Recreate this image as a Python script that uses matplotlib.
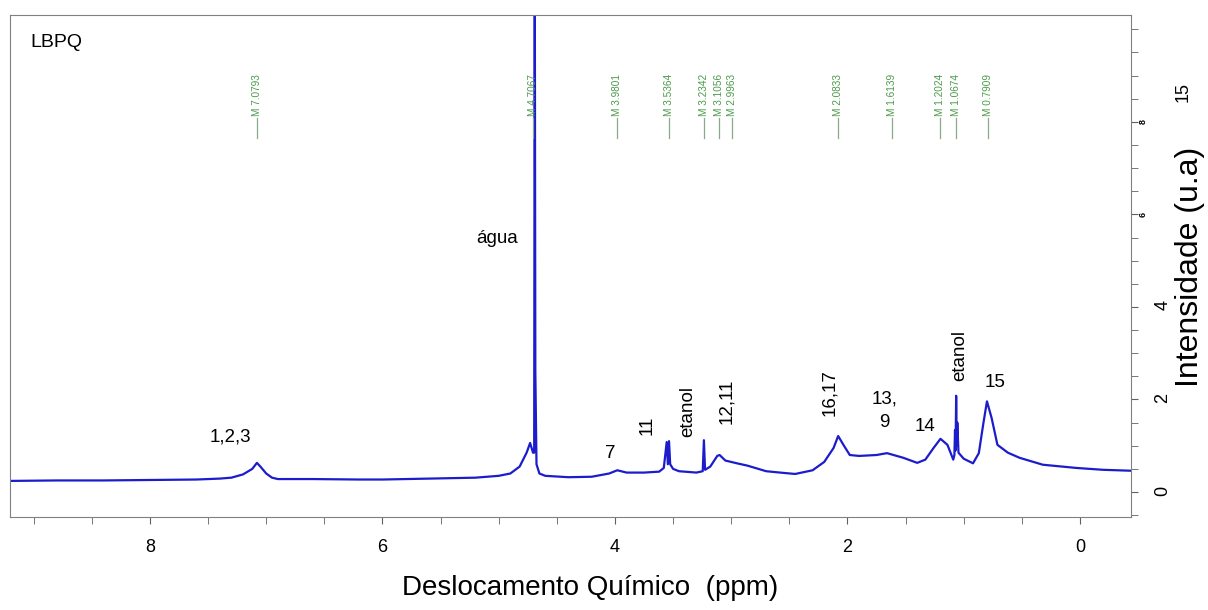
import matplotlib
matplotlib.use('Agg')
import matplotlib.pyplot as plt
from matplotlib.ticker import MultipleLocator

plt.rcParams['font.family'] = ['Liberation Sans', 'DejaVu Sans']

# spectrum: chemical shift (ppm) and intensity (u.a)
ppm = [9.20, 8.80, 8.40, 8.00, 7.60, 7.40, 7.30, 7.20, 7.12, 7.08, 7.05, 7.00, 6.95, 6.90,
       6.60, 6.20, 6.00, 5.60, 5.20, 5.00, 4.90, 4.82, 4.76, 4.73, 4.705, 4.695, 4.69, 4.685,
       4.675, 4.65, 4.60, 4.40, 4.20, 4.05, 3.98, 3.90, 3.75, 3.62, 3.58, 3.555, 3.545, 3.535,
       3.525, 3.50, 3.45, 3.30, 3.245, 3.235, 3.225, 3.18, 3.12, 3.10, 3.05, 2.95, 2.86, 2.70,
       2.58, 2.45, 2.30, 2.20, 2.12, 2.08, 2.03, 1.98, 1.90, 1.75, 1.66, 1.52, 1.40, 1.33,
       1.26, 1.20, 1.14, 1.09, 1.08, 1.075, 1.07, 1.065, 1.06, 1.055, 1.045, 1.00, 0.92, 0.87,
       0.83, 0.80, 0.76, 0.71, 0.62, 0.52, 0.32, 0.03, -0.20, -0.44]
intensity = [0.24, 0.25, 0.25, 0.26, 0.27, 0.29, 0.31, 0.38, 0.50, 0.63, 0.55, 0.40, 0.31, 0.28,
             0.28, 0.27, 0.27, 0.29, 0.31, 0.35, 0.40, 0.55, 0.85, 1.06, 0.85, 0.85, 12.0, 2.60,
             0.60, 0.40, 0.35, 0.32, 0.33, 0.40, 0.47, 0.42, 0.42, 0.44, 0.52, 1.08, 0.60, 1.10,
             0.60, 0.50, 0.45, 0.42, 0.45, 1.12, 0.48, 0.55, 0.78, 0.80, 0.68, 0.62, 0.57, 0.45,
             0.42, 0.39, 0.47, 0.65, 0.95, 1.21, 1.00, 0.80, 0.78, 0.80, 0.84, 0.74, 0.63, 0.70,
             0.95, 1.15, 1.02, 0.70, 0.80, 1.34, 0.90, 2.08, 1.00, 1.50, 0.85, 0.72, 0.62, 0.84,
             1.50, 1.96, 1.60, 1.02, 0.85, 0.74, 0.59, 0.52, 0.48, 0.46]

# peak picking marks
marks = [7.0793, 4.7067, 3.9801, 3.5364, 3.2342, 3.1056, 2.9963, 2.0833, 1.6139, 1.2024,
         1.0674, 0.7909]

# assignment labels: text, ppm, intensity, rotation
labels = ['1,2,3', 'água', '7', '11', 'etanol', '12,11', '16,17', '13,\n9', '14', 'etanol', '15']
label_ppm = [7.31, 5.01, 4.04, 3.72, 3.37, 3.04, 2.15, 1.68, 1.33, 1.03, 0.73]
label_int = [1.19, 5.49, 0.84, 1.45, 1.73, 1.95, 2.14, 1.75, 1.41, 2.96, 2.36]
label_rot = [0, 0, 0, 90, 90, 90, 90, 0, 0, 90, 0]

fig = plt.figure(figsize=(12.08, 6.10), dpi=100)
ax = fig.add_axes([10 / 1208, 1 - 517 / 610, 1121 / 1208, 502 / 610])

ax.plot(ppm, intensity, color='#1c1ccc', lw=1.6)

green = '#4a9a4a'
for m in marks:
    ax.plot([m, m], [7.65, 8.08], color='#8aa88a', lw=0.9)
    ax.text(m, 8.12, 'M %.4f' % m, rotation=90, ha='center', va='bottom',
            fontsize=7.2, color=green)

for t, x, y, r in zip(labels, label_ppm, label_int, label_rot):
    ax.text(x, y, t, rotation=r, ha='center', va='center', fontsize=13.5,
            linespacing=1.5)

ax.text(0.018, 0.945, 'LBPQ', transform=ax.transAxes, fontsize=14, va='center')

ax.set_xlim(9.204, -0.439)
ax.set_ylim(-0.54, 10.31)

for s in ax.spines.values():
    s.set_color('#808080')

ax.xaxis.set_major_locator(MultipleLocator(2))
ax.xaxis.set_minor_locator(MultipleLocator(0.5))
ax.tick_params(axis='x', which='both', direction='out', length=5, color='#606060',
               labelsize=13, pad=11)

ax.yaxis.tick_right()
ax.set_yticks([0, 2, 4, 6, 8])
ax.set_yticklabels(['0', '2', '4', '', ''])
ax.yaxis.set_minor_locator(MultipleLocator(0.5))
ax.tick_params(axis='y', which='both', direction='out', length=5, color='#606060',
               labelsize=13, labelrotation=90, pad=12)
for v in [6, 8]:
    ax.text(1.011, v, str(v), transform=ax.get_yaxis_transform(), rotation=90,
            fontsize=6.5, fontweight='bold', ha='center', va='center')

fig.text(1183 / 1208, 1 - 92 / 610, '15', rotation=90, fontsize=13, ha='center', va='center')
fig.text(1190 / 1208, 1 - 267 / 610, 'Intensidade (u.a)', rotation=90, fontsize=23,
         ha='center', va='center')
fig.text(590 / 1208, 1 - 588 / 610, 'Deslocamento Químico  (ppm)', fontsize=20,
         ha='center', va='center')

fig.savefig('out.png', dpi=100)
